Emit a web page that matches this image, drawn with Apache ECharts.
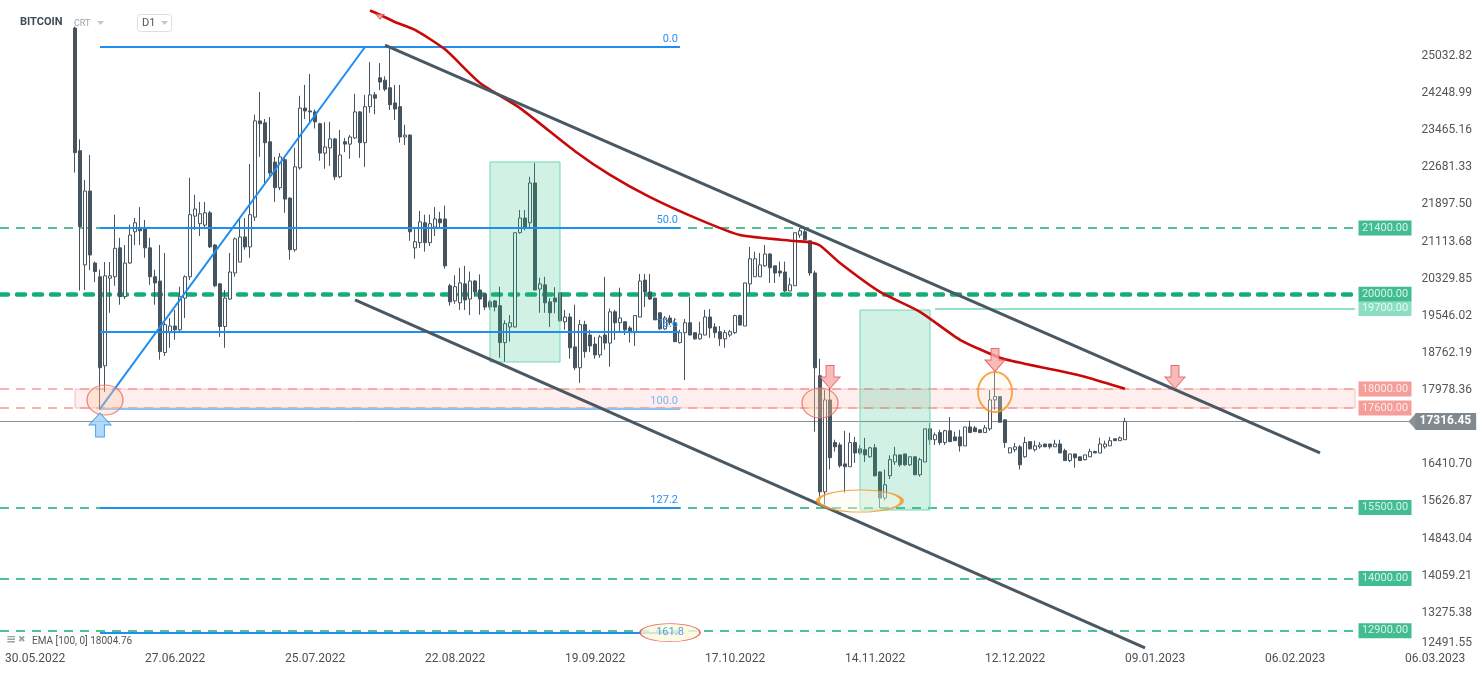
<!DOCTYPE html>
<html><head><meta charset="utf-8">
<script src="https://cdn.jsdelivr.net/npm/echarts@6/dist/echarts.min.js"></script>
<style>html,body{margin:0;padding:0;background:#fff}#c{width:1482px;height:674px}</style>
</head><body><div id="c"></div>
<script>
// ---------- DATA ----------
const firstDay = Date.UTC(2022, 4, 29);   // first category (29.05.2022)
const dayCount = 283;                       // up to 07.03.2023
const candleFirstDate = '13.06.2022';
// [open, close, low, high]
const ohlc = [
[25620,22990,22570,25650],[23030,21430,20080,23270],[20620,22180,20090,22410],[22180,20830,20510,22940],
[20660,20480,20260,20690],[20370,18450,17560,20520],[18490,20390,17940,20680],[20340,20390,19610,20680],
[20370,20970,20180,21680],[20980,19950,19780,21190],[19950,20660,19900,21040],[20660,21250,20640,21470],
[21320,21510,21040,21610],[21410,21340,21040,21840],[21390,20980,20770,21570],[20980,20370,20200,21190],
[20370,20240,19780,20520],[20280,18790,18620,21040],[18770,19360,18700,20870],[19190,19330,18870,19500],
[19330,19250,19040,19670],[19250,19950,19180,20160],[19920,20370,19500,20400],[20370,21680,20300,22460],
[21650,21800,21360,22100],[21490,21700,21230,21950],[21460,21720,21420,21950],
[21720,21000,20980,21760],[21040,20180,20150,21060],[20220,19320,19100,20240],[19320,19920,18870,20090],
[19900,20470,19880,20870],[20450,21170,20370,21200],[20680,21210,20680,21610],[21210,21000,20940,21610],
[21000,21680,20770,22750],[21630,23660,21550,23790],[23660,23600,22900,24270],[23620,23200,22350,23700],
[23220,22560,22500,23740],[22790,22250,21950,22900],[22250,22900,22200,22980],[22840,22010,21720,22900],
[22030,20940,20730,22050],[20940,22690,20900,23090],[22670,23930,22630,24190],[23930,23870,23700,24420],
[23870,23850,23600,24650],[23850,23640,23500,23900],[23600,22980,22820,23620],[22980,23110,22650,23630],
[23090,23280,22710,23640],[23280,22480,22410,23300],[22480,22940,22450,23470],
[23220,23170,23000,23300],[23170,23320,22860,23360],[23300,23850,23280,24230],[23850,23200,22880,23870],
[23200,23960,22690,24210],[23960,24210,23830,24900],[24210,24140,23800,24270],[24570,24480,24310,24880],
[24520,24330,24290,24600],[24360,24000,23890,25200],[24040,23910,23680,24420],[23960,23320,23200,24420],
[23320,23360,23150,23580],[23360,21320,21130,23380],[20980,21110,20750,21380],[21090,21530,20980,21760],
[21510,21090,20900,21680],[21090,21490,21020,21680],[21420,21590,21230,21840],[21590,21510,21420,21740],
[21590,20600,20540,21870],
[20180,19840,19760,20220],[19860,20160,19800,20400],[19820,20240,19670,20560],[20220,19880,19670,20600],
[19900,20280,19560,20480],[20280,20050,19950,20300],[20090,19900,19570,20420],[20010,19730,19670,20020],
[19840,19730,19670,19880],[19860,19730,19640,19880],[19760,18980,18660,20160],[18980,19380,18570,19450],
[19310,19400,19000,19560],[19310,21300,19300,21300],[21300,21610,21280,21780],[21610,21400,21350,21780],
[21510,22350,21400,22480],[22350,20090,20090,22770],[20110,20220,19610,20350],[20200,19820,19610,20370],
[19840,19610,19310,19920],[19920,19840,19600,20150],[20030,19440,19420,20050],[19420,19520,19250,19670],
[19520,18870,18640,19600],[18890,18450,18400,19780],[18450,19360,18130,19460],[19360,18790,18660,19440],
[19140,18910,18780,19250],[18950,18720,18640,19100],[18720,19100,18660,19140],[19140,18970,18830,20370],
[18970,19630,18470,19700],[19630,19400,19040,19670],[19400,19500,19210,20140],[19420,19250,19140,19420],
[19290,19190,18980,19330],[19190,19550,18910,19550],[19520,20280,19520,20430],[20300,20050,19730,20430],
[20050,19900,19880,20430],[19920,19460,19460,19920],[19610,19270,19250,19610],[19270,19500,19250,19540],
[19500,19400,19350,19560],[19400,19000,18990,19500],[18980,19190,18960,19250],[19190,19400,18190,19480],
[19400,19140,19140,19950],[19190,19060,19040,19190],[19060,19160,19040,19420],[19140,19520,19140,19670],
[19520,19290,19080,19690],[19310,19190,19080,19390],[19210,19060,18910,19330],[19060,19190,18870,19250],
[19140,19210,19100,19250],[19190,19550,19160,19570],[19550,19350,19350,19570],
[19330,20240,19330,20240],[20220,20750,20030,21000],[20370,20750,20370,20900],[20370,20620,20370,20870],
[20600,20850,20580,21040],[20850,20560,20240,20870],[20600,20450,20240,20600],[20490,20450,20370,20690],
[20470,20070,20050,20690],[20070,20200,20070,20350],[20180,21300,20180,21300],[21250,21340,21190,21400],
[21320,21150,21150,21400],[21130,20450,20390,21130],[20450,18450,17100,20500],[18280,15830,15730,18640],
[15830,17770,15560,17980],[17770,16550,16300,18020],[16870,16780,16680,16930],[16820,16380,16340,16870],
[16420,16360,15810,17120],[16360,16870,16360,17080],[16870,16650,16440,16990],[16740,16650,16610,16820],
[16720,16610,16460,16970],[16570,16760,16550,16780],[16760,16170,16150,16840],
[16250,15700,15490,16260],[15700,15980,15650,16300],[16170,16510,16100,16600],[16460,16610,16400,16780],
[16610,16400,16360,16610],[16630,16400,16380,16630],[16400,16570,16380,16570],[16570,16190,16190,16570],
[16190,16510,16150,16550],[16460,17160,16460,17160],[17160,16930,16820,17290],[16930,17030,16820,17080],
[17080,16870,16820,17140],[16870,17120,16820,17140],[17120,16890,16890,17410],[16990,16910,16910,17100],
[16990,16800,16680,17140],[16800,17200,16800,17200],[17200,17080,17080,17330],[17180,17100,17100,17220],
[17140,17080,17080,17140],[17080,17180,17080,17240],[17160,17770,17120,17980],[17770,17840,17560,18360],
[17840,17300,17290,17840],
[17350,16870,16760,17350],[16650,16760,16650,16760],[16720,16780,16670,16860],[16780,16400,16300,16820],
[16570,16870,16550,16990],[16890,16740,16720,16890],[16720,16800,16680,16910],[16780,16820,16740,16880],
[16840,16780,16780,16840],[16840,16780,16740,16840],[16780,16840,16780,16930],[16840,16650,16650,16930],
[16700,16490,16490,16740],[16490,16630,16460,16630],[16630,16550,16340,16630],[16570,16490,16490,16570],
[16510,16610,16490,16610],[16570,16680,16570,16740],[16680,16650,16650,16700],[16650,16840,16650,16970],
[16780,16840,16740,16910],[16800,16910,16800,16990],[16950,16910,16910,16950],[16910,16970,16910,17000],
[16930,17316.45,16930,17390]
];
const lastPrice = 17316.45;
// EMA(100) read at sample days
const emaPoints = [
['11.08.2022',25990],['13.08.2022',25900],['16.08.2022',25748],['20.08.2022',25580],['26.08.2022',25170],
['02.09.2022',24460],['10.09.2022',23930],['21.09.2022',23020],['28.09.2022',22520],['06.10.2022',22050],
['16.10.2022',21570],['24.10.2022',21250],['04.11.2022',21125],['07.11.2022',21100],['09.11.2022',21030],
['13.11.2022',20660],['21.11.2022',20050],['29.11.2022',19630],['07.12.2022',19040],['15.12.2022',18660],
['21.12.2022',18510],['27.12.2022',18380],['02.01.2023',18230],['09.01.2023',18004.76]
];
const emaLabel = 'EMA [100, 0]';
// horizontal levels
const greenLevels = [21400, 15500, 14000, 12900];
const mainLevel = [20000];
const thinLevel = [19700];
const zoneLevels = [18000, 17600];
// fibonacci tool
const fibHigh = 25220, fibLow = 17580;
const fibRatios = [0, 50, 78.6, 100, 127.2, 161.8];
const fibFrom = '18.06.2022', fibTo = '12.10.2022';
const fibImpulse = [['18.06.2022', 17580], ['10.08.2022', 25220]];
// channel
const channelUpper = [['14.08.2022', 25262], ['17.02.2023', 16652]];
const channelLower = [['08.08.2022', 19880], ['13.01.2023', 12534]];
// boxes
const boxes = [[['04.09.2022', 22793], ['18.09.2022', 18571]], [['17.11.2022', 19668], ['01.12.2022', 15447]]];
const zoneSpan = ['13.06.2022', '24.02.2023'];
const levelSpan = ['29.05.2022', '24.02.2023'];
const thinSpan = ['02.12.2022', '24.02.2023'];
const tagDate = '02.03.2023';
// annotations
const redArrows = [['11.11.2022', 18254], ['14.12.2022', 18613], ['19.01.2023', 18254]];
const topArrow = [['13.08.2022', 25860]];
const blueArrow = [['18.06.2022', 17241]];
const redCircles = [['19.06.2022', 17769], ['09.11.2022', 17705]];
const orangeCircle = [['14.12.2022', 17937]];
const orangeOval = [['17.11.2022', 15637]];
// y axis
const yMin = 12491.552, yStep = 783.8294, yMax = 26212;
// x labels every 28 days from 30.05.2022
const xLabelEvery = 28;

// ---------- BUILD ----------
const pad = n => (n < 10 ? '0' : '') + n;
const categories = [];
for (let i = 0; i < dayCount; i++) {
  const dt = new Date(firstDay + i * 86400000);
  categories.push(pad(dt.getUTCDate()) + '.' + pad(dt.getUTCMonth() + 1) + '.' + dt.getUTCFullYear());
}
const idx0 = categories.indexOf(candleFirstDate);
const candleData = ohlc.map((r, k) => [categories[idx0 + k], r[0], r[1], r[2], r[3]]);
const FONT = 'Roboto';
const GREEN = '#13ad76', LGREEN = '#6fd6b0', SALMON = '#f1857f', BLUE = '#1f8ef1', SLATE = '#46545f';

const hLine = (v, span, style) => [{coord: [span[0], v], lineStyle: style}, {coord: [span[1], v]}];
const levelLines = [];
greenLevels.forEach(v => levelLines.push(hLine(v, levelSpan, {color: GREEN, width: 1.5, type: [9, 7]})));
mainLevel.forEach(v => levelLines.push(hLine(v, levelSpan, {color: GREEN, width: 4.5, type: [8, 9], cap: 'round'})));
thinLevel.forEach(v => levelLines.push(hLine(v, thinSpan, {color: LGREEN, width: 1.5, type: 'solid'})));
zoneLevels.forEach(v => levelLines.push(hLine(v, levelSpan, {color: '#f39a96', width: 1.5, type: [9, 7]})));

const fibLines = fibRatios.map(r => {
  const v = fibHigh - r / 100 * (fibHigh - fibLow);
  const light = r === 100;
  return [{coord: [fibFrom, v], lineStyle: {color: light ? '#8cc3f3' : BLUE, width: 2, type: 'solid'},
    label: {show: r !== 161.8, position: 'insideEndTop', formatter: r.toFixed(1), color: light ? '#7bb8ef' : '#2b8ff0',
      fontSize: 11, fontFamily: FONT, distance: [2, 2]}}, {coord: [fibTo, v]}];
});
fibLines.push([{coord: fibImpulse[0], lineStyle: {color: BLUE, width: 2, type: 'solid'}, label: {show: false}}, {coord: fibImpulse[1]}]);

const tagItems = [];
greenLevels.concat(mainLevel).forEach(v => tagItems.push({value: [tagDate, v], itemStyle: {color: GREEN}}));
thinLevel.forEach(v => tagItems.push({value: [tagDate, v], itemStyle: {color: LGREEN}}));
zoneLevels.forEach(v => tagItems.push({value: [tagDate, v], itemStyle: {color: SALMON}}));

const downArrow = 'path://M6,0 L14,0 L14,11 L20,11 L10,22 L0,11 L6,11 Z';
const upArrow = 'path://M10,0 L20,11 L14,11 L14,22 L6,22 L6,11 L0,11 Z';

const option = {
  animation: false,
  backgroundColor: '#ffffff',
  textStyle: {fontFamily: FONT},
  grid: {left: -2.5, right: 69.5, top: 0, bottom: 24, containLabel: false, outerBoundsMode: 'none'},
  xAxis: {
    type: 'category', data: categories, boundaryGap: true,
    axisLine: {show: false}, axisTick: {show: false}, splitLine: {show: false},
    axisLabel: {interval: (i) => (i - 1) % xLabelEvery === 0 && i >= 1, align: 'left', color: '#4f4f4f',
      fontSize: 12, fontFamily: FONT, margin: 3, hideOverlap: false}
  },
  yAxis: [
    {type: 'value', min: yMin, max: yMax, show: false, splitLine: {show: false}},
    {type: 'value', position: 'right', min: 0, max: yMax - yMin, interval: yStep,
      axisLine: {show: false}, axisTick: {show: false}, splitLine: {show: false},
      axisLabel: {showMaxLabel: false, margin: 9, color: '#555', fontSize: 12, fontFamily: FONT,
        formatter: (v) => {
          const real = v + yMin;
          if (real > 25100) return '';
          if (Math.abs(real - lastPrice) < 200) return '';
          if (v < 1) return '{b|' + real.toFixed(2) + '}';
          return real.toFixed(2);
        },
        rich: {b: {color: '#555', fontSize: 12, fontFamily: FONT, padding: [0, 0, 14, 0]}}
      }}
  ],
  graphic: [
    {type: 'text', left: 20, top: 17, style: {text: 'BITCOIN', font: 'bold 11px Roboto', fill: '#3e4a55'}, z: 100},
    {type: 'text', left: 74, top: 19, style: {text: 'CRT', font: '9px Roboto', fill: '#9ca5ad'}, z: 100},
    {type: 'polygon', shape: {points: [[97, 21], [104, 21], [100.5, 25]]}, style: {fill: '#c3c8cd'}, z: 100},
    {type: 'rect', shape: {x: 137.5, y: 14.5, width: 34, height: 17, r: 3}, style: {fill: '#fff', stroke: '#dcdfe2', lineWidth: 1}, z: 100},
    {type: 'text', left: 142, top: 18, style: {text: 'D1', font: '11px Roboto', fill: '#555'}, z: 101},
    {type: 'polygon', shape: {points: [[161, 21], [168, 21], [164.5, 25]]}, style: {fill: '#c3c8cd'}, z: 101},
    {type: 'text', left: 6, top: 634, style: {text: '\u2261', font: 'bold 12px DejaVu Sans', fill: '#9aa1a7'}, z: 100},
    {type: 'text', left: 18, top: 635, style: {text: '\u2716', font: '9px DejaVu Sans', fill: '#9aa1a7'}, z: 100},
    {type: 'text', left: 32, top: 636, style: {text: emaLabel + ' ' + emaPoints[emaPoints.length - 1][1].toFixed(2), font: '10px Roboto', fill: '#555'}, z: 100}
  ],
  series: [
    {
      name: 'levels', type: 'line', data: [], z: 1, silent: true,
      markArea: {silent: true, z: 1, data: [[
        {coord: [zoneSpan[0], zoneLevels[0]], itemStyle: {color: 'rgba(249,170,165,0.2)', borderColor: 'rgba(240,150,150,0.55)', borderWidth: 1}},
        {coord: [zoneSpan[1], zoneLevels[1]]}]]},
      markLine: {silent: true, z: 1, symbol: ['none', 'none'], label: {show: false}, data: levelLines}
    },
    {
      name: 'fib', type: 'line', data: [], z: 4, silent: true,
      markLine: {silent: true, z: 4, symbol: ['none', 'none'], data: fibLines}
    },
    {
      name: 'BITCOIN', type: 'candlestick', data: candleData, encode: {x: 0, y: [1, 2, 3, 4]},
      z: 3, clip: true, barWidth: 4,
      itemStyle: {color: '#ffffff', color0: SLATE, borderColor: SLATE, borderColor0: SLATE, borderWidth: 1}
    },
    {
      name: 'price', type: 'line', data: [], z: 2, clip: false, silent: true,
      markLine: {silent: true, z: 2, symbol: ['none', 'triangle'], symbolSize: [18, 8], symbolRotate: 90,
        data: [{yAxis: lastPrice, lineStyle: {color: '#8a9298', width: 1, type: 'solid'},
          label: {show: true, position: 'end', distance: 3, formatter: lastPrice.toFixed(2), color: '#fff',
            backgroundColor: '#80898f', fontSize: 12, fontWeight: 'bold', fontFamily: FONT, padding: [3, 5, 2, 4]}}]}
    },
    {
      name: 'boxes', type: 'line', data: [], z: 4, silent: true,
      markArea: {silent: true, z: 4, data: boxes.map(b => [
        {coord: b[0], itemStyle: {color: 'rgba(40,190,130,0.22)', borderColor: '#6fd8b2', borderWidth: 1}},
        {coord: b[1]}])}
    },
    {
      name: 'EMA', type: 'line', data: emaPoints, z: 5, smooth: 0.2, showSymbol: false, symbol: 'none',
      lineStyle: {color: '#c90909', width: 2.6}, silent: true
    },
    {
      name: 'channel', type: 'line', data: [], z: 6, silent: true,
      markLine: {silent: true, z: 6, symbol: ['none', 'none'], label: {show: false},
        data: [channelUpper, channelLower].map(c => [{coord: c[0], lineStyle: {color: '#4a5863', width: 3, type: 'solid'}}, {coord: c[1]}])}
    },
    {
      name: 'redCircles', type: 'scatter', data: redCircles, z: 7, silent: true, symbol: 'circle', symbolSize: [36, 30],
      itemStyle: {color: 'rgba(255,205,170,0.45)', borderColor: '#eb6b6b', borderWidth: 1.2}
    },
    {
      name: 'orangeCircle', type: 'scatter', data: orangeCircle, z: 7, silent: true, symbol: 'circle', symbolSize: [34, 40],
      itemStyle: {color: 'rgba(255,245,225,0.35)', borderColor: '#f5921e', borderWidth: 2}
    },
    {
      name: 'orangeOval', type: 'scatter', data: orangeOval, z: 7, silent: true, symbol: 'circle', symbolSize: [84, 22],
      itemStyle: {color: 'rgba(255,250,235,0.5)', borderColor: '#f5921e', borderWidth: 2}
    },
    {
      name: 'fibTag', type: 'scatter', data: [['10.10.2022', fibHigh - 1.618 * (fibHigh - fibLow)]], z: 7, silent: true,
      symbol: 'circle', symbolSize: [60, 18],
      itemStyle: {color: '#fdf9dd', borderColor: '#e34b4b', borderWidth: 1},
      label: {show: true, position: 'inside', formatter: (161.8).toFixed(1), color: '#2b8ff0', fontSize: 11, fontFamily: FONT}
    },
    {
      name: 'redArrows', type: 'scatter', data: redArrows, z: 8, silent: true, symbol: downArrow, symbolSize: [20, 23],
      itemStyle: {color: '#f7a9a9', borderColor: '#e05050', borderWidth: 1}
    },
    {
      name: 'topArrow', type: 'scatter', data: topArrow, z: 8, silent: true, symbol: 'triangle', symbolRotate: 180, symbolSize: [8, 5],
      itemStyle: {color: '#f7a9a9', borderColor: '#e05050', borderWidth: 1}
    },
    {
      name: 'blueArrow', type: 'scatter', data: blueArrow, z: 8, silent: true, symbol: upArrow, symbolSize: [22, 24],
      itemStyle: {color: '#9fd0f8', borderColor: '#2a8fe8', borderWidth: 1}
    },
    {
      name: 'tags', type: 'scatter', data: tagItems, z: 9, silent: true, symbol: 'rect', symbolSize: [53, 15],
      label: {show: true, position: 'inside', color: '#fff', fontSize: 11, fontFamily: FONT,
        formatter: p => p.value[1].toFixed(2)}
    }
  ]
};
const chart = echarts.init(document.getElementById('c'), null, {renderer: 'canvas'});
chart.setOption(option);
</script>
</body></html>
